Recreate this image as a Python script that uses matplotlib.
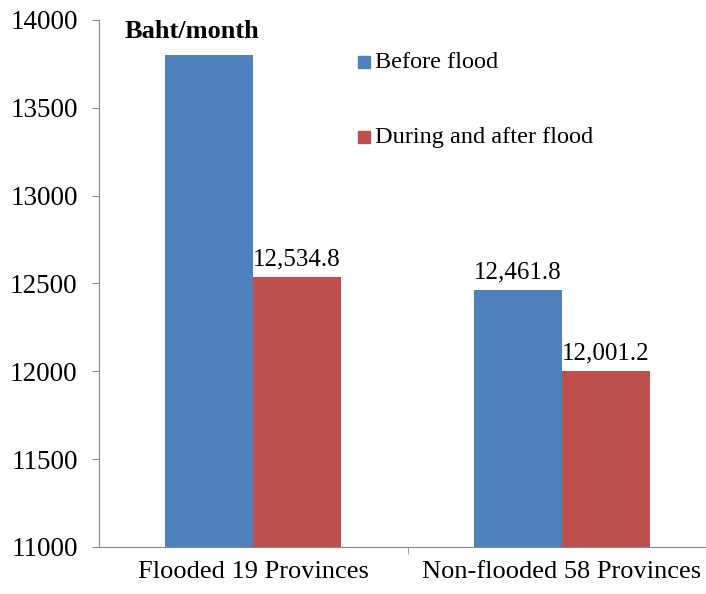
import matplotlib
matplotlib.use("Agg")
import matplotlib.pyplot as plt
from matplotlib.patches import Rectangle

categories = ["Flooded 19 Provinces", "Non-flooded 58 Provinces"]
before = [13800, 12461.8]
after = [12534.8, 12001.2]
before_labels = [None, "12,461.8"]
after_labels = ["12,534.8", "12,001.2"]
series = ["Before flood", "During and after flood"]
colors = ["#4F81BD", "#C0504D"]

plt.rcParams['font.family'] = ['Liberation Serif', 'DejaVu Serif']
fig = plt.figure(figsize=(7.06, 5.94), dpi=100)
ax = fig.add_axes([98.5/706, 1-547/594, 618/706, 527/594])
w = 0.285
x = [0, 1]
ax.bar([i - w/2 for i in x], before, w, color=colors[0])
ax.bar([i + w/2 for i in x], after, w, color=colors[1])
for i in x:
    if before_labels[i]:
        ax.text(i - w/2, before[i] + 40, before_labels[i], ha='center', va='bottom', fontsize=18)
    if after_labels[i]:
        ax.text(i + w/2, after[i] + 40, after_labels[i], ha='center', va='bottom', fontsize=18)
ax.set_ylim(11000, 14000)
ax.set_xlim(-0.5, 1.5)
ax.set_yticks(range(11000, 14001, 500))
ax.set_xticks(x)
ax.set_xticklabels(categories, fontsize=19)
ax.tick_params(axis='y', labelsize=19.5, direction='out', length=5, color='#888888', pad=10)
ax.tick_params(axis='x', length=0, pad=10)
ax.set_xticks([0.5], minor=True)
ax.tick_params(axis='x', which='minor', length=5, color='#888888')
for s in ['top', 'right']:
    ax.spines[s].set_visible(False)
for s in ['left', 'bottom']:
    ax.spines[s].set_color('#888888')
fig.text(125/706, 1-32/594, "Baht/month", fontsize=19, fontweight='bold', va='center')
for k, yy in enumerate([62, 137]):
    fig.patches.append(Rectangle((358/706, 1-(yy+6)/594), 12/706, 12/594,
                                 transform=fig.transFigure, color=colors[k]))
    fig.text(375/706, 1-yy/594, series[k], fontsize=17.5, va='center')
fig.savefig("out.png", dpi=100)
